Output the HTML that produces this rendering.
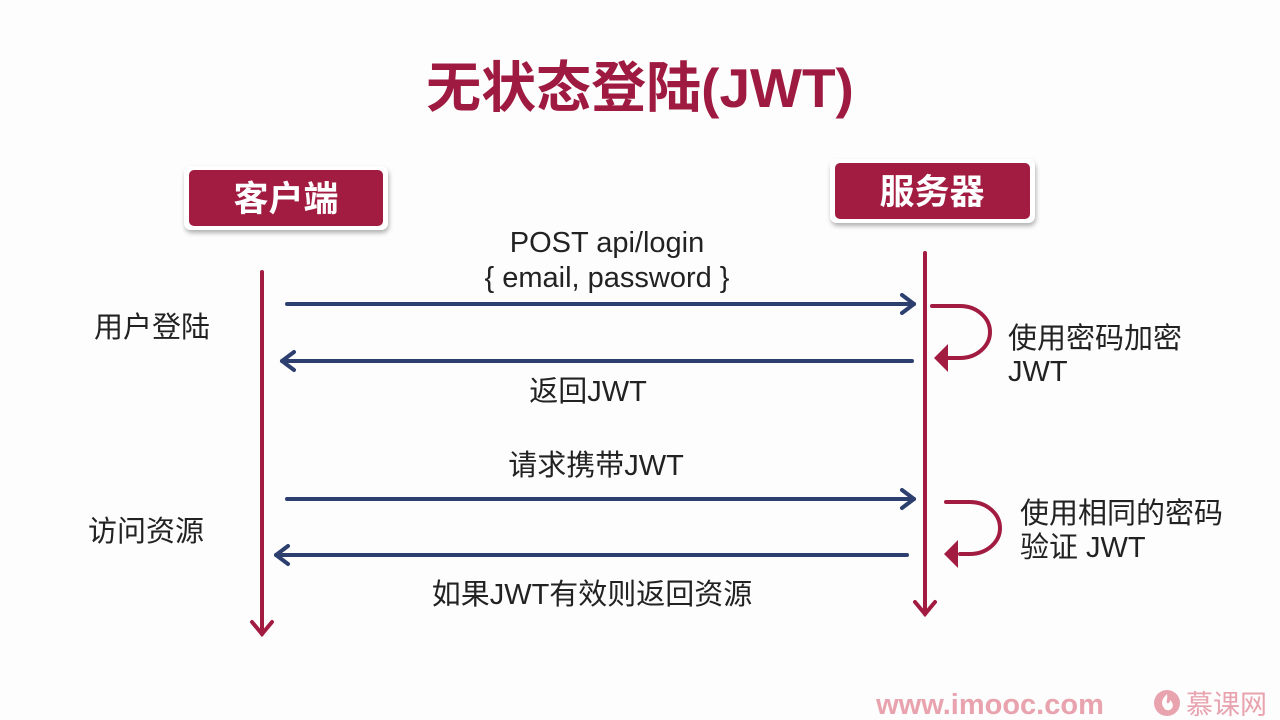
<!DOCTYPE html>
<html><head><meta charset="utf-8"><style>
body{margin:0;background:#fff;}
svg{display:block}
text{font-family:"Liberation Sans","Noto Sans CJK SC",sans-serif;}
</style></head><body>
<svg width="1280" height="720" viewBox="0 0 1280 720">
<defs>
<filter id="sh" x="-10%" y="-20%" width="120%" height="150%"><feDropShadow dx="1" dy="3" stdDeviation="2.5" flood-color="#000" flood-opacity="0.3"/></filter>
</defs>
<rect width="1280" height="720" fill="#fdfdfd"/>
<text x="640" y="107" text-anchor="middle" font-size="55" font-weight="bold" fill="#9e1a40">无状态登陆(JWT)</text>

<g filter="url(#sh)">
<rect x="184" y="166" width="204" height="64" rx="7" fill="#fff"/>
<rect x="830" y="159" width="205" height="64" rx="7" fill="#fff"/>
</g>
<rect x="189" y="170" width="194" height="56" rx="5" fill="#a21c41"/>
<rect x="835" y="163" width="195" height="56" rx="5" fill="#a21c41"/>
<text x="286" y="211" text-anchor="middle" font-size="35" font-weight="bold" fill="#fff">客户端</text>
<text x="932" y="204" text-anchor="middle" font-size="35" font-weight="bold" fill="#fff">服务器</text>

<g stroke="#a21c41" stroke-width="4" fill="none" stroke-linecap="round">
<line x1="262" y1="272" x2="262" y2="634"/>
<polyline points="252,622 262,634 272,622"/>
<line x1="925" y1="253" x2="925" y2="614"/>
<polyline points="915,602 925,614 935,602"/>
<path d="M932,306 H960 A30,26 0 0 1 960,358 H948"/>
<path d="M946,502 H970 A30,26 0 0 1 970,554 H960"/>
</g>
<polygon points="934,358 948,344 948,372" fill="#a21c41"/>
<polygon points="944,554 958,540 958,568" fill="#a21c41"/>

<g stroke="#2c3f6e" stroke-width="4" fill="none" stroke-linecap="round" stroke-linejoin="round">
<line x1="287" y1="304" x2="914" y2="304"/><polyline points="902,295 914,304 902,313"/>
<line x1="912" y1="361" x2="282" y2="361"/><polyline points="294,352 282,361 294,370"/>
<line x1="287" y1="499" x2="914" y2="499"/><polyline points="902,490 914,499 902,508"/>
<line x1="907" y1="555" x2="276" y2="555"/><polyline points="288,546 276,555 288,564"/>
</g>

<g font-size="29" fill="#222">
<text x="607" y="252" text-anchor="middle">POST api/login</text>
<text x="607" y="287" text-anchor="middle">{ email, password }</text>
<text x="152" y="337" text-anchor="middle">用户登陆</text>
<text x="588" y="401" text-anchor="middle">返回JWT</text>
<text x="596" y="475" text-anchor="middle">请求携带JWT</text>
<text x="146" y="541" text-anchor="middle">访问资源</text>
<text x="592" y="604" text-anchor="middle">如果JWT有效则返回资源</text>
<text x="1008" y="348">使用密码加密</text>
<text x="1008" y="381">JWT</text>
<text x="1020" y="523">使用相同的密码</text>
<text x="1020" y="557">验证 JWT</text>
</g>

<text x="990" y="714" text-anchor="middle" font-size="29" font-weight="bold" fill="#e8a3ae">www.imooc.com</text>
<circle cx="1167" cy="703" r="13" fill="#e8a3ae"/>
<path d="M1167,694 c-6,6 -6,10 -3,14 c2,3 6,3 8,0 c2,-3 0,-6 -2,-8 c0,3 -2,4 -3,3 c-1,-2 1,-5 0,-9z" fill="#fff"/>
<text x="1186" y="714" font-size="27" fill="#e8a3ae">慕课网</text>
</svg>
</body></html>
